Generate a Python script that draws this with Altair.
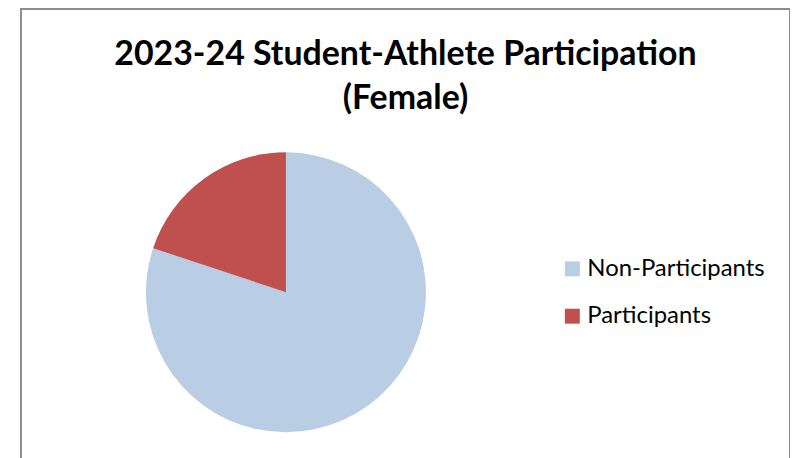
import altair as alt
import pandas as pd

categories = ["Non-Participants", "Participants"]
values = [80.1, 19.9]
slice_order = [0, 1]
colors = ["#B9CDE5", "#C0504D"]
title_lines = ["2023-24 Student-Athlete Participation", "(Female)"]

df = pd.DataFrame({"category": categories, "value": values, "order": slice_order})
tdf = pd.DataFrame({"line": title_lines, "row": [0, 1]})

pie = alt.Chart(df).mark_arc(outerRadius=140.5, strokeWidth=0).encode(
    theta=alt.Theta("value:Q", stack=True),
    color=alt.Color(
        "category:N",
        scale=alt.Scale(domain=categories, range=colors),
        legend=alt.Legend(
            title=None,
            orient="none",
            legendX=541.5,
            legendY=249,
            symbolType="square",
            symbolSize=225,
            symbolStrokeWidth=0,
            labelFont="Lato",
            labelFontSize=24,
            labelColor="#000000",
            labelOffset=3,
            labelLimit=0,
            rowPadding=23.5,
            padding=0,
        ),
    ),
    order=alt.Order("order:Q"),
    x=alt.value(266),
    y=alt.value(284.5),
)

title1 = alt.Chart(tdf).transform_filter("datum.row == 0").mark_text(
    font="Lato", fontWeight="bold", fontSize=34, color="#000000", baseline="alphabetic", align="center"
).encode(text="line:N", x=alt.value(386), y=alt.value(56))

title2 = alt.Chart(tdf).transform_filter("datum.row == 1").mark_text(
    font="Lato", fontWeight="bold", fontSize=34, color="#000000", baseline="alphabetic", align="center"
).encode(text="line:N", x=alt.value(386), y=alt.value(101))

chart = alt.layer(pie, title1, title2).properties(
    width=772,
    height=460,
    autosize=alt.AutoSizeParams(type="none"),
    padding={"left": 13, "top": 0, "right": 0, "bottom": 0},
).configure_view(stroke="#8C8C8C", strokeWidth=2)

chart.save("out.html", embed_options={"renderer": "svg", "actions": False})
